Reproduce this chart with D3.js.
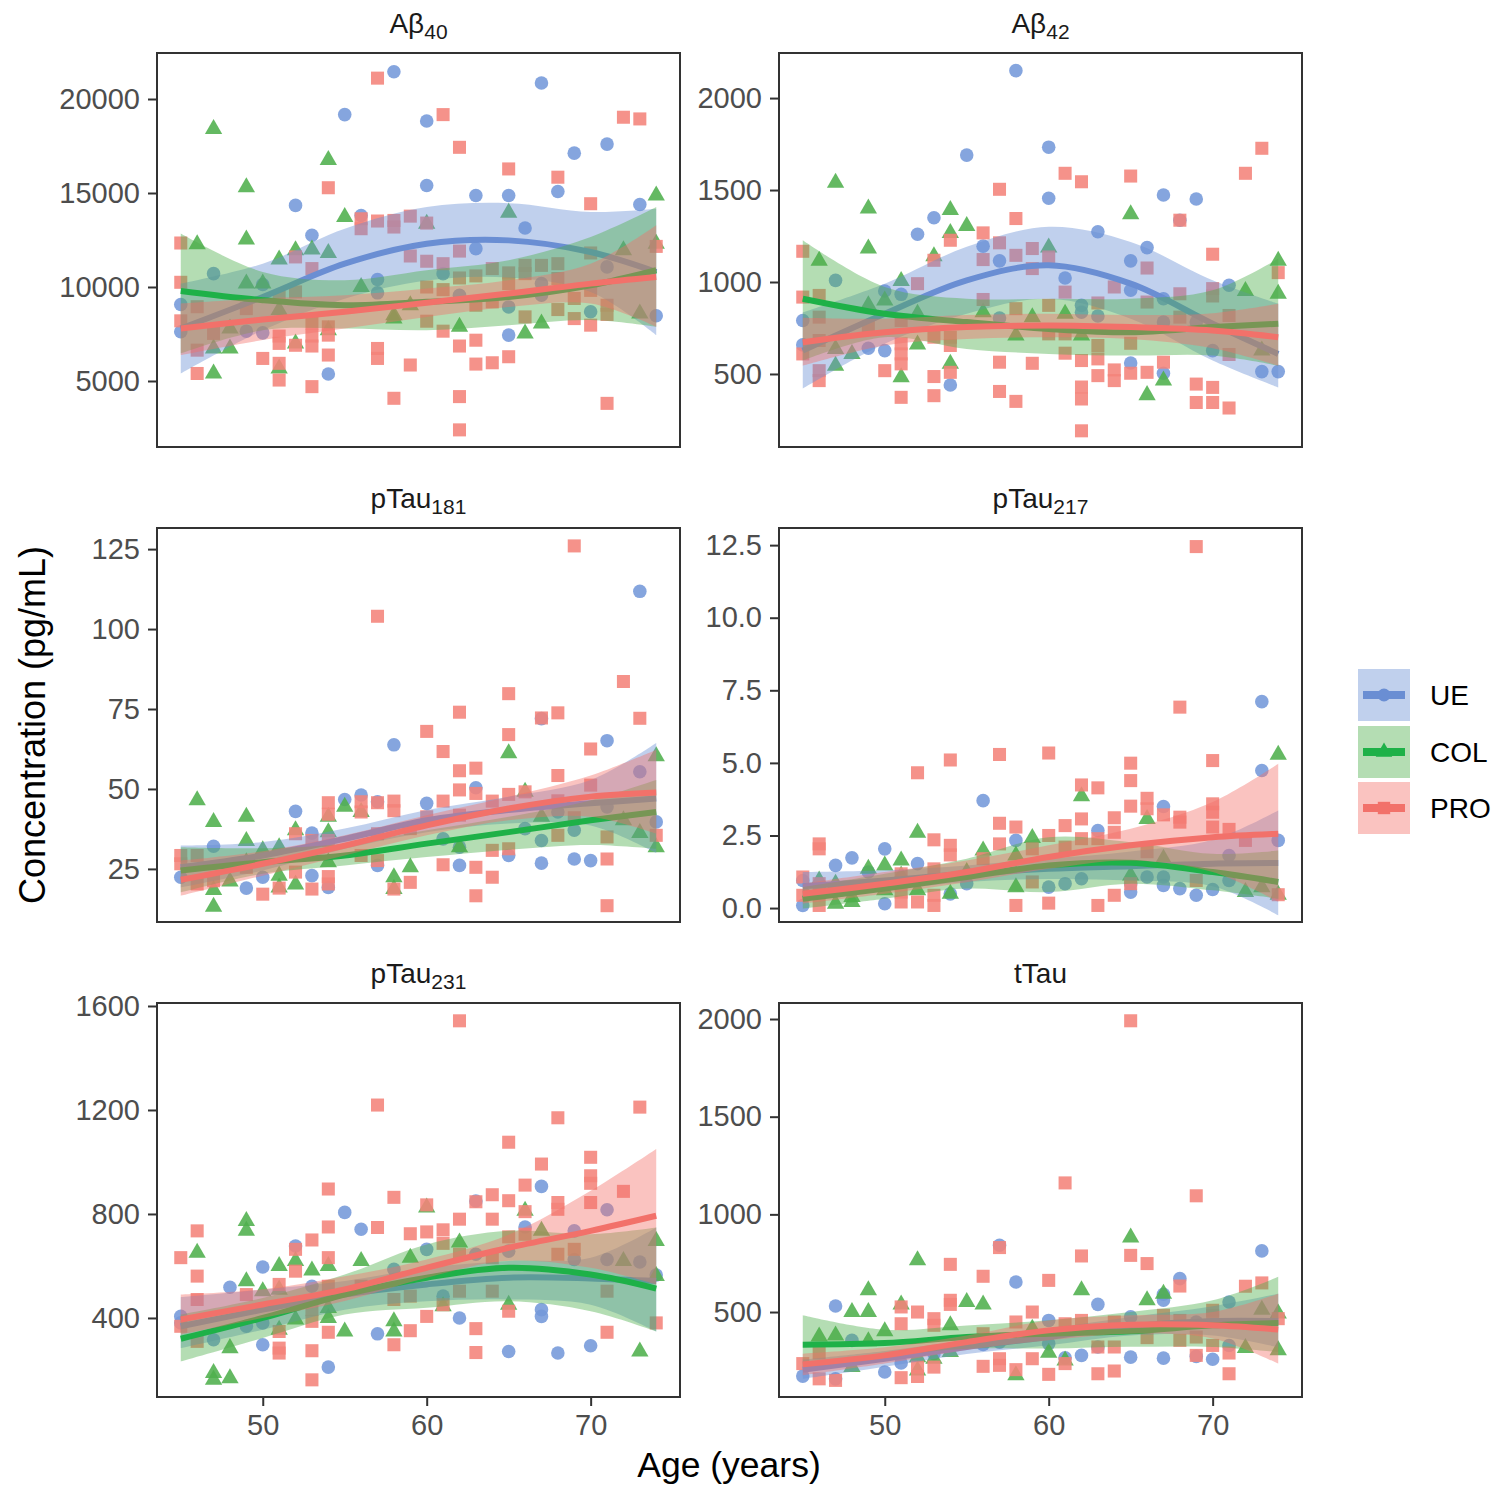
<!DOCTYPE html>
<html>
<head>
<meta charset="utf-8">
<script src="https://cdn.jsdelivr.net/npm/d3@7"></script>
<style>
  body { margin: 0; background: #fff; }
  svg text { font-family: "Liberation Sans", Arial, Helvetica, sans-serif; }
</style>
</head>
<body>
<div id="chart"></div>
<script>
// 1. SETUP
const width = 1504;
const height = 1504;

const groups = ["UE", "COL", "PRO"];
const smoothAges = [45, 50, 55, 60, 65, 70, 74];
const xTicks = [50, 60, 70];

// --- POINTS: [age, value] ---
const ab40UE = [[58,21450],[55,19170],[60,18830],[67,20850],[69,17120],[71,17600],[52,14340],[60,15400],[63,14870],[65,14870],[68,15080],[73,14390],[53,12750],[56,13800],[66,13140],[63,12040],[47,10710],[50,10130],[57,10400],[57,9690],[61,10710],[71,11070],[67,10180],[45,9070],[45,7620],[49,7650],[50,7560],[65,8940],[65,7440],[70,8680],[74,8470],[54,5370],[62,9560],[67,9560]];
const ab40COL = [[47,18410],[54,16760],[49,15310],[49,12520],[55,13720],[46,12270],[51,11460],[52,11950],[53,12000],[54,11810],[60,13370],[65,13950],[74,14870],[72,11950],[74,12300],[49,10180],[50,10180],[56,10000],[58,8500],[58,8320],[59,9030],[51,8770],[48,7790],[47,6730],[48,6730],[52,7000],[54,7700],[47,5400],[51,5670],[62,7880],[66,7530],[67,8060],[73,8590]];
const ab40PRO = [[57,21110],[61,19170],[62,17430],[65,16280],[68,15840],[72,19030],[73,18940],[54,15280],[70,14430],[56,13630],[56,13100],[57,13510],[58,13540],[58,13190],[59,13770],[60,13400],[45,12340],[52,11600],[53,10980],[59,11650],[60,11370],[61,11240],[62,11910],[70,11810],[74,12160],[45,10250],[62,10480],[63,10590],[64,10980],[65,10750],[65,10180],[66,11150],[66,10710],[67,11150],[68,11240],[68,10450],[60,10000],[61,9860],[70,9820],[69,9390],[71,9030],[71,8540],[46,8950],[49,8850],[51,9470],[52,9740],[45,8200],[47,7530],[51,7390],[51,7000],[53,8060],[53,7390],[53,6860],[54,7880],[54,7440],[54,6380],[46,6640],[50,6200],[52,6900],[51,5940],[51,5050],[46,5400],[53,4700],[57,6730],[57,6200],[58,4080],[59,5850],[60,8180],[61,7650],[62,6860],[62,4170],[62,2400],[63,7170],[63,5900],[64,5970],[65,6290],[66,8410],[68,8800],[69,8320],[70,7970],[71,3810],[63,9030],[64,9210]];

const ab42UE = [[58,2149],[55,1690],[60,1733],[60,1455],[67,1473],[69,1451],[68,1336],[52,1260],[53,1349],[63,1273],[66,1187],[56,1195],[57,1115],[65,1115],[47,1009],[61,1022],[71,982],[50,951],[51,933],[65,955],[62,873],[67,909],[45,791],[57,804],[63,815],[67,782],[45,658],[49,640],[50,627],[62,836],[65,560],[67,504],[70,627],[73,513],[74,513],[54,440],[69,782]];
const ab42COL = [[47,1540],[49,1400],[49,1182],[54,1391],[55,1304],[54,1267],[46,1115],[53,1140],[51,1006],[60,1187],[65,1369],[74,1115],[74,936],[72,951],[49,873],[50,900],[52,827],[56,836],[59,809],[61,827],[58,709],[62,709],[47,636],[48,609],[52,660],[47,545],[51,482],[54,555],[66,385],[67,464],[73,627]];
const ab42PRO = [[73,1727],[72,1591],[61,1591],[62,1545],[65,1576],[57,1504],[58,1345],[68,1336],[45,1167],[54,1227],[56,1267],[57,1213],[70,1151],[74,1051],[53,1118],[56,1122],[58,1145],[59,1182],[60,1136],[59,1073],[66,1076],[52,991],[64,973],[61,945],[70,964],[68,936],[45,918],[46,927],[56,905],[70,924],[63,886],[66,891],[58,855],[60,873],[46,809],[51,791],[68,809],[71,818],[49,755],[53,700],[54,700],[46,682],[60,718],[61,718],[65,667],[54,655],[51,664],[51,609],[51,555],[45,609],[63,655],[61,613],[62,573],[63,582],[71,606],[46,518],[46,464],[50,518],[53,486],[53,382],[51,373],[57,564],[59,558],[57,405],[58,351],[62,429],[62,364],[62,191],[63,491],[64,522],[64,464],[65,504],[66,509],[67,564],[69,445],[69,345],[70,427],[70,345],[71,315],[54,509]];

const pt181UE = [[73,111.8],[58,63.8],[71,65.1],[67,72.0],[52,43.0],[55,46.7],[56,48.1],[60,45.5],[63,50.4],[57,46.0],[53,36.2],[47,32.1],[74,39.7],[73,55.4],[71,44.4],[67,33.9],[68,42.8],[66,37.6],[61,34.4],[62,31.8],[45,22.4],[50,22.4],[49,19.0],[53,22.9],[54,19.2],[57,26.1],[62,26.1],[65,29.2],[67,26.8],[69,28.1],[70,27.6],[69,37.1]];
const pt181COL = [[46,46.5],[47,39.7],[49,41.3],[49,33.7],[50,30.8],[51,31.8],[52,37.1],[54,41.3],[54,36.5],[55,44.4],[56,42.8],[65,61.2],[66,49.1],[74,60.2],[72,40.2],[73,36.2],[74,31.8],[62,31.8],[67,41.3],[48,21.1],[47,18.4],[47,13.2],[51,22.9],[51,19.2],[52,20.1],[54,27.1],[58,22.4],[58,18.7],[59,25.5],[49,27.1]];
const pt181PRO = [[69,126],[57,104],[72,83.6],[65,79.8],[65,67.0],[67,72.2],[68,73.8],[73,72.1],[62,74.0],[60,68.0],[61,61.7],[70,62.5],[62,55.7],[63,56.5],[68,54.2],[62,49.7],[63,48.6],[65,48.3],[66,49.1],[70,51.2],[61,46.2],[54,45.7],[56,46.0],[57,45.7],[58,46.2],[58,43.2],[64,46.2],[68,46.3],[56,42.8],[54,42.1],[60,41.3],[62,41.8],[69,41.0],[57,36.0],[59,37.6],[68,35.5],[71,35.0],[74,35.5],[45,29.2],[45,26.6],[46,29.2],[52,36.0],[53,33.9],[54,33.9],[64,30.8],[65,31.3],[63,25.5],[61,26.3],[71,28.1],[49,25.5],[52,24.0],[54,22.6],[54,20.3],[51,19.0],[50,17.1],[53,18.7],[58,18.7],[59,20.8],[64,22.4],[63,16.6],[71,13.5],[46,20.3],[47,21.3],[56,29.2],[57,27.6]];

const pt217UE = [[73,7.11],[73,4.74],[56,3.70],[67,3.50],[74,2.33],[58,2.33],[63,2.67],[50,2.04],[48,1.73],[47,1.47],[52,1.53],[45,0.95],[45,0.09],[50,0.15],[54,0.49],[55,0.84],[60,0.72],[61,0.84],[62,1.01],[65,0.55],[66,1.07],[67,0.78],[67,1.07],[68,0.67],[69,0.44],[70,0.64],[71,0.95],[71,1.81],[65,0.84],[49,1.24]];
const pt217COL = [[74,5.28],[62,3.85],[66,3.07],[52,2.59],[59,2.41],[49,1.35],[50,1.47],[51,1.64],[56,1.98],[58,1.81],[46,0.95],[47,0.84],[47,0.15],[48,0.38],[48,0.21],[51,1.12],[52,0.61],[54,0.49],[58,0.72],[65,1.12],[67,1.70],[72,0.55],[73,0.72],[74,0.46],[55,1.24],[50,0.61]];
const pt217PRO = [[69,12.45],[68,6.92],[70,5.08],[57,5.29],[60,5.34],[54,5.10],[52,4.66],[65,4.99],[65,4.39],[62,4.24],[63,4.14],[65,3.51],[66,3.78],[66,3.42],[70,3.59],[70,3.30],[67,3.21],[68,3.13],[68,2.96],[62,3.07],[64,3.11],[57,2.92],[58,2.79],[70,2.79],[71,2.71],[61,2.84],[60,2.50],[64,2.61],[46,2.21],[46,2.04],[53,2.35],[54,2.16],[54,1.83],[57,2.21],[61,2.10],[63,2.39],[72,2.33],[59,2.04],[62,2.39],[56,1.70],[45,1.07],[45,0.44],[46,0.84],[46,0.09],[51,1.18],[51,0.55],[51,0.21],[52,0.21],[53,1.35],[53,0.44],[53,0.09],[58,0.09],[59,0.90],[60,0.17],[63,0.09],[64,0.44],[65,0.84],[69,0.95],[74,0.46],[66,1.94]];

const pt231UE = [[55,806],[56,741],[52,677],[50,596],[48,518],[67,906],[71,816],[69,735],[66,750],[60,664],[63,645],[65,657],[69,625],[71,625],[73,615],[74,565],[45,406],[45,381],[47,316],[49,368],[50,381],[53,522],[58,587],[61,484],[62,400],[67,432],[67,406],[50,297],[54,211],[57,339],[65,271],[68,265],[70,293],[63,850]];
const pt231COL = [[49,773],[49,735],[46,651],[51,600],[52,619],[53,583],[54,600],[56,619],[60,825],[66,812],[67,735],[62,690],[59,632],[72,619],[74,696],[74,561],[49,541],[50,503],[51,509],[54,438],[54,400],[52,394],[51,355],[55,348],[58,387],[58,348],[61,445],[65,451],[48,284],[47,188],[47,162],[48,168],[73,271]];
const pt231PRO = [[62,1543],[57,1219],[68,1170],[73,1211],[65,1076],[67,992],[70,1018],[70,947],[70,918],[70,844],[72,887],[54,896],[58,864],[66,911],[64,874],[63,847],[65,851],[60,835],[68,844],[68,818],[66,809],[46,735],[54,750],[57,748],[59,724],[60,731],[61,739],[62,780],[64,780],[53,700],[52,664],[52,580],[45,632],[46,561],[54,632],[65,712],[66,722],[68,645],[69,664],[62,645],[61,687],[64,632],[51,529],[49,490],[46,471],[53,432],[53,387],[54,522],[56,522],[58,471],[59,484],[62,503],[64,503],[71,503],[65,426],[45,368],[51,348],[51,284],[51,265],[53,274],[53,162],[54,345],[58,297],[59,351],[60,406],[61,451],[63,359],[63,267],[71,345],[74,381],[46,310]];

const ttauUE = [[73,813],[57,842],[58,654],[68,671],[67,591],[67,560],[63,539],[71,551],[47,531],[48,355],[51,239],[50,193],[45,172],[47,158],[56,334],[57,346],[60,457],[60,338],[61,266],[62,278],[63,321],[65,475],[65,269],[67,264],[69,449],[69,273],[70,258],[71,329],[53,287]];
const ttauCOL = [[65,881],[52,765],[49,611],[62,611],[66,560],[67,594],[48,500],[49,500],[51,539],[55,551],[56,539],[54,432],[73,512],[74,492],[46,375],[47,380],[50,401],[49,351],[59,415],[72,316],[74,304],[48,218],[52,269],[52,201],[53,261],[54,295],[58,176],[60,292],[61,252]];
const ttauPRO = [[65,1991],[61,1161],[69,1095],[62,787],[65,790],[66,748],[54,744],[56,683],[60,662],[57,830],[68,633],[72,632],[73,649],[51,526],[52,500],[54,560],[54,539],[59,500],[74,466],[51,440],[53,466],[53,432],[70,509],[70,483],[67,483],[62,457],[64,449],[58,449],[68,457],[61,440],[66,369],[68,355],[69,372],[70,329],[64,321],[63,321],[46,290],[45,236],[46,158],[47,150],[51,164],[52,218],[52,170],[53,218],[56,222],[57,261],[57,227],[58,205],[59,261],[60,181],[61,236],[63,184],[64,198],[69,278],[71,290],[71,184],[56,389]];

// --- SMOOTH FITS: [fit, lower, upper] at smoothAges ---
const ab40SmoothUE = [[7790,5400,10180],[9470,7700,11240],[11240,9380,13100],[12300,10350,14250],[12480,10500,14460],[11860,9730,13990],[10800,7440,14160]];
const ab40SmoothCOL = [[9790,6470,12840],[9300,7700,10800],[9030,7790,10360],[9210,7700,10890],[9470,7970,11420],[10090,8240,12660],[10890,7880,14250]];
const ab40SmoothPRO = [[7790,6380,9120],[8270,7180,9390],[8680,7790,9560],[9160,8410,9920],[9650,8940,10360],[10180,9120,11240],[10530,7880,13280]];

const ab42SmoothUE = [[627,420,835],[827,664,991],[1009,827,1191],[1091,909,1300],[991,800,1218],[773,573,1009],[609,427,882]];
const ab42SmoothCOL = [[909,573,1227],[827,700,973],[782,636,909],[745,609,909],[727,600,909],[755,600,955],[773,545,1127]];
const ab42SmoothPRO = [[673,545,806],[727,655,800],[755,690,820],[764,700,827],[755,690,820],[736,640,830],[700,545,882]];

const pt181SmoothUE = [[25.5,19.2,32.3],[29.2,24.5,33.4],[34.4,31.3,37.6],[40.2,36.5,43.4],[43.4,39.2,47.6],[45.5,38.6,52.8],[47.0,30.0,64.4]];
const pt181SmoothCOL = [[24.5,17.7,31.8],[27.1,23.5,31.5],[29.2,26.1,32.9],[32.9,28.7,37.1],[36.5,31.0,41.3],[40.2,32.5,46.5],[42.8,31.3,52.8]];
const pt181SmoothPRO = [[21.6,16.6,27.6],[26.6,22.9,30.5],[32.3,29.2,35.5],[38.6,35.5,41.8],[43.9,40.2,47.6],[47.6,41.3,54.2],[48.9,36.0,62.3]];

const pt217SmoothUE = [[0.75,0.32,1.24],[0.95,0.60,1.30],[1.18,0.90,1.47],[1.35,1.00,1.70],[1.44,0.95,1.95],[1.53,0.75,2.35],[1.55,-0.25,3.36]];
const pt217SmoothCOL = [[0.32,-0.02,0.72],[0.67,0.32,1.18],[1.07,0.67,1.70],[1.47,0.55,2.44],[1.56,0.84,2.27],[1.24,0.61,1.87],[0.90,0.32,1.98]];
const pt217SmoothPRO = [[0.49,0.15,0.84],[0.84,0.49,1.24],[1.24,0.89,1.64],[1.76,1.35,2.16],[2.16,1.64,2.73],[2.44,1.24,3.65],[2.56,0.21,4.97]];

const pt231SmoothUE = [[368,284,480],[432,355,509],[490,432,542],[529,464,593],[555,471,619],[552,451,632],[542,348,748]];
const pt231SmoothCOL = [[320,233,413],[400,323,477],[490,413,567],[555,439,683],[593,464,735],[567,426,722],[513,348,748]];
const pt231SmoothPRO = [[394,336,490],[452,400,510],[510,465,560],[593,555,625],[670,620,720],[735,593,889],[793,529,1050]];

const ttauSmoothUE = [[205,158,256],[261,220,300],[321,285,355],[372,330,415],[427,380,475],[454,380,530],[454,320,594]];
const ttauSmoothCOL = [[333,218,483],[341,273,409],[372,312,431],[389,313,458],[401,322,500],[432,321,560],[444,295,680]];
const ttauSmoothPRO = [[232,176,287],[278,236,320],[346,305,380],[406,355,457],[435,389,483],[432,365,500],[410,236,594]];

// --- STYLE ---
const pointColor = { UE: "#7499DA", COL: "#4FAF4C", PRO: "#F4837A" };
const lineColor = { UE: "#6A8ED3", COL: "#1EB148", PRO: "#F2716A" };
const bandColor = { UE: "#6A8ED3", COL: "#4DAF4A", PRO: "#F2706A" };
const shapes = { UE: d3.symbolCircle, COL: d3.symbolTriangle, PRO: d3.symbolSquare };
const shapeSize = { UE: 145, COL: 130, PRO: 170 };

const panels = [
    { title: "Aβ", sub: "40", pts: { UE: ab40UE, COL: ab40COL, PRO: ab40PRO }, sm: { UE: ab40SmoothUE, COL: ab40SmoothCOL, PRO: ab40SmoothPRO }, domain: [1489, 22447], ticks: [5000, 10000, 15000, 20000], fmt: d3.format("d") },
    { title: "Aβ", sub: "42", pts: { UE: ab42UE, COL: ab42COL, PRO: ab42PRO }, sm: { UE: ab42SmoothUE, COL: ab42SmoothCOL, PRO: ab42SmoothPRO }, domain: [103, 2245], ticks: [500, 1000, 1500, 2000], fmt: d3.format("d") },
    { title: "pTau", sub: "181", pts: { UE: pt181UE, COL: pt181COL, PRO: pt181PRO }, sm: { UE: pt181SmoothUE, COL: pt181SmoothCOL, PRO: pt181SmoothPRO }, domain: [8.4, 131.6], ticks: [25, 50, 75, 100, 125], fmt: d3.format("d") },
    { title: "pTau", sub: "217", pts: { UE: pt217UE, COL: pt217COL, PRO: pt217PRO }, sm: { UE: pt217SmoothUE, COL: pt217SmoothCOL, PRO: pt217SmoothPRO }, domain: [-0.48, 13.09], ticks: [0, 2.5, 5, 7.5, 10, 12.5], fmt: d3.format(".1f") },
    { title: "pTau", sub: "231", pts: { UE: pt231UE, COL: pt231COL, PRO: pt231PRO }, sm: { UE: pt231SmoothUE, COL: pt231SmoothCOL, PRO: pt231SmoothPRO }, domain: [96, 1611.5], ticks: [400, 800, 1200, 1600], fmt: d3.format("d") },
    { title: "tTau", sub: "", pts: { UE: ttauUE, COL: ttauCOL, PRO: ttauPRO }, sm: { UE: ttauSmoothUE, COL: ttauSmoothCOL, PRO: ttauSmoothPRO }, domain: [65, 2082], ticks: [500, 1000, 1500, 2000], fmt: d3.format("d") }
];

const colX = [157, 779];
const rowY = [53, 528, 1003];
const pw = 523, ph = 394;

const svg = d3.select("#chart")
    .append("svg")
    .attr("width", width)
    .attr("height", height)
    .attr("viewBox", [0, 0, width, height]);

svg.append("rect").attr("width", width).attr("height", height).attr("fill", "#fff");

panels.forEach((p, i) => {
    const col = i % 2, row = Math.floor(i / 2);
    const x0 = colX[col], y0 = rowY[row];

    const x = d3.scaleLinear().domain([43.55, 75.45]).range([x0, x0 + pw]);
    const y = d3.scaleLinear().domain(p.domain).range([y0 + ph, y0]);

    const g = svg.append("g");

    // clip
    svg.append("clipPath").attr("id", "clip" + i)
        .append("rect").attr("x", x0).attr("y", y0).attr("width", pw).attr("height", ph);

    const plot = g.append("g").attr("clip-path", `url(#clip${i})`);

    // --- POINTS ---
    groups.forEach(grp => {
        plot.append("g")
            .selectAll("path")
            .data(p.pts[grp])
            .join("path")
            .attr("transform", d => `translate(${x(d[0])},${y(d[1])})`)
            .attr("d", d3.symbol().type(shapes[grp]).size(shapeSize[grp]))
            .attr("fill", pointColor[grp])
            .attr("fill-opacity", 0.88);
    });

    // --- SMOOTH BANDS + LINES ---
    groups.forEach(grp => {
        const rows = p.sm[grp].map((d, k) => ({ age: smoothAges[k], fit: d[0], lo: d[1], hi: d[2] }));
        plot.append("path")
            .datum(rows)
            .attr("d", d3.area()
                .curve(d3.curveCatmullRom)
                .x(d => x(d.age))
                .y0(d => y(d.lo))
                .y1(d => y(d.hi)))
            .attr("fill", bandColor[grp])
            .attr("fill-opacity", 0.42);
        plot.append("path")
            .datum(rows)
            .attr("d", d3.line()
                .curve(d3.curveCatmullRom)
                .x(d => x(d.age))
                .y(d => y(d.fit)))
            .attr("fill", "none")
            .attr("stroke", lineColor[grp])
            .attr("stroke-width", 6);
    });

    // border
    g.append("rect")
        .attr("x", x0).attr("y", y0).attr("width", pw).attr("height", ph)
        .attr("fill", "none").attr("stroke", "#333").attr("stroke-width", 2);

    // y axis
    const ya = g.append("g")
        .attr("transform", `translate(${x0},0)`)
        .call(d3.axisLeft(y).tickValues(p.ticks).tickFormat(p.fmt).tickSize(9).tickPadding(8));
    ya.select(".domain").remove();
    ya.selectAll(".tick line").attr("stroke", "#333").attr("stroke-width", 2);
    ya.selectAll(".tick text").attr("fill", "#4D4D4D").style("font-size", "29px")
        .style("font-family", "'Liberation Sans', Arial, sans-serif");

    // x axis only on bottom row
    if (row === 2) {
        const xa = g.append("g")
            .attr("transform", `translate(0,${y0 + ph})`)
            .call(d3.axisBottom(x).tickValues(xTicks).tickSize(9).tickPadding(8));
        xa.select(".domain").remove();
        xa.selectAll(".tick line").attr("stroke", "#333").attr("stroke-width", 2);
        xa.selectAll(".tick text").attr("fill", "#4D4D4D").style("font-size", "29px")
            .style("font-family", "'Liberation Sans', Arial, sans-serif");
    }

    // title
    const t = g.append("text")
        .attr("x", x0 + pw / 2)
        .attr("y", y0 - 20)
        .attr("text-anchor", "middle")
        .attr("font-size", "28px")
        .attr("fill", "#1a1a1a");
    t.append("tspan").text(p.title);
    if (p.sub) {
        t.append("tspan").text(p.sub).attr("font-size", "21px").attr("dy", 6);
    }
});

// --- AXIS TITLES ---
svg.append("text")
    .attr("transform", `translate(32, 725) rotate(-90)`)
    .attr("text-anchor", "middle")
    .attr("dominant-baseline", "central")
    .attr("font-size", "36px")
    .attr("fill", "#000")
    .text("Concentration (pg/mL)");

svg.append("text")
    .attr("x", 729)
    .attr("y", 1477)
    .attr("text-anchor", "middle")
    .attr("font-size", "35.5px")
    .attr("fill", "#000")
    .text("Age (years)");

// --- LEGEND ---
const legendY = [669, 726, 782];
const legend = svg.append("g");
groups.forEach((grp, k) => {
    const ly = legendY[k];
    legend.append("rect")
        .attr("x", 1358).attr("y", ly).attr("width", 52).attr("height", 52)
        .attr("fill", bandColor[grp]).attr("fill-opacity", 0.42);
    legend.append("path")
        .attr("transform", `translate(1384,${ly + 26})`)
        .attr("d", d3.symbol().type(shapes[grp]).size(shapeSize[grp] * 0.9))
        .attr("fill", lineColor[grp]);
    legend.append("line")
        .attr("x1", 1363).attr("x2", 1405)
        .attr("y1", ly + 26).attr("y2", ly + 26)
        .attr("stroke", lineColor[grp]).attr("stroke-width", 8);
    legend.append("text")
        .attr("x", 1430).attr("y", ly + 26)
        .attr("dominant-baseline", "central")
        .attr("font-size", "28px")
        .attr("fill", "#000")
        .text(grp);
});
</script>
</body>
</html>
